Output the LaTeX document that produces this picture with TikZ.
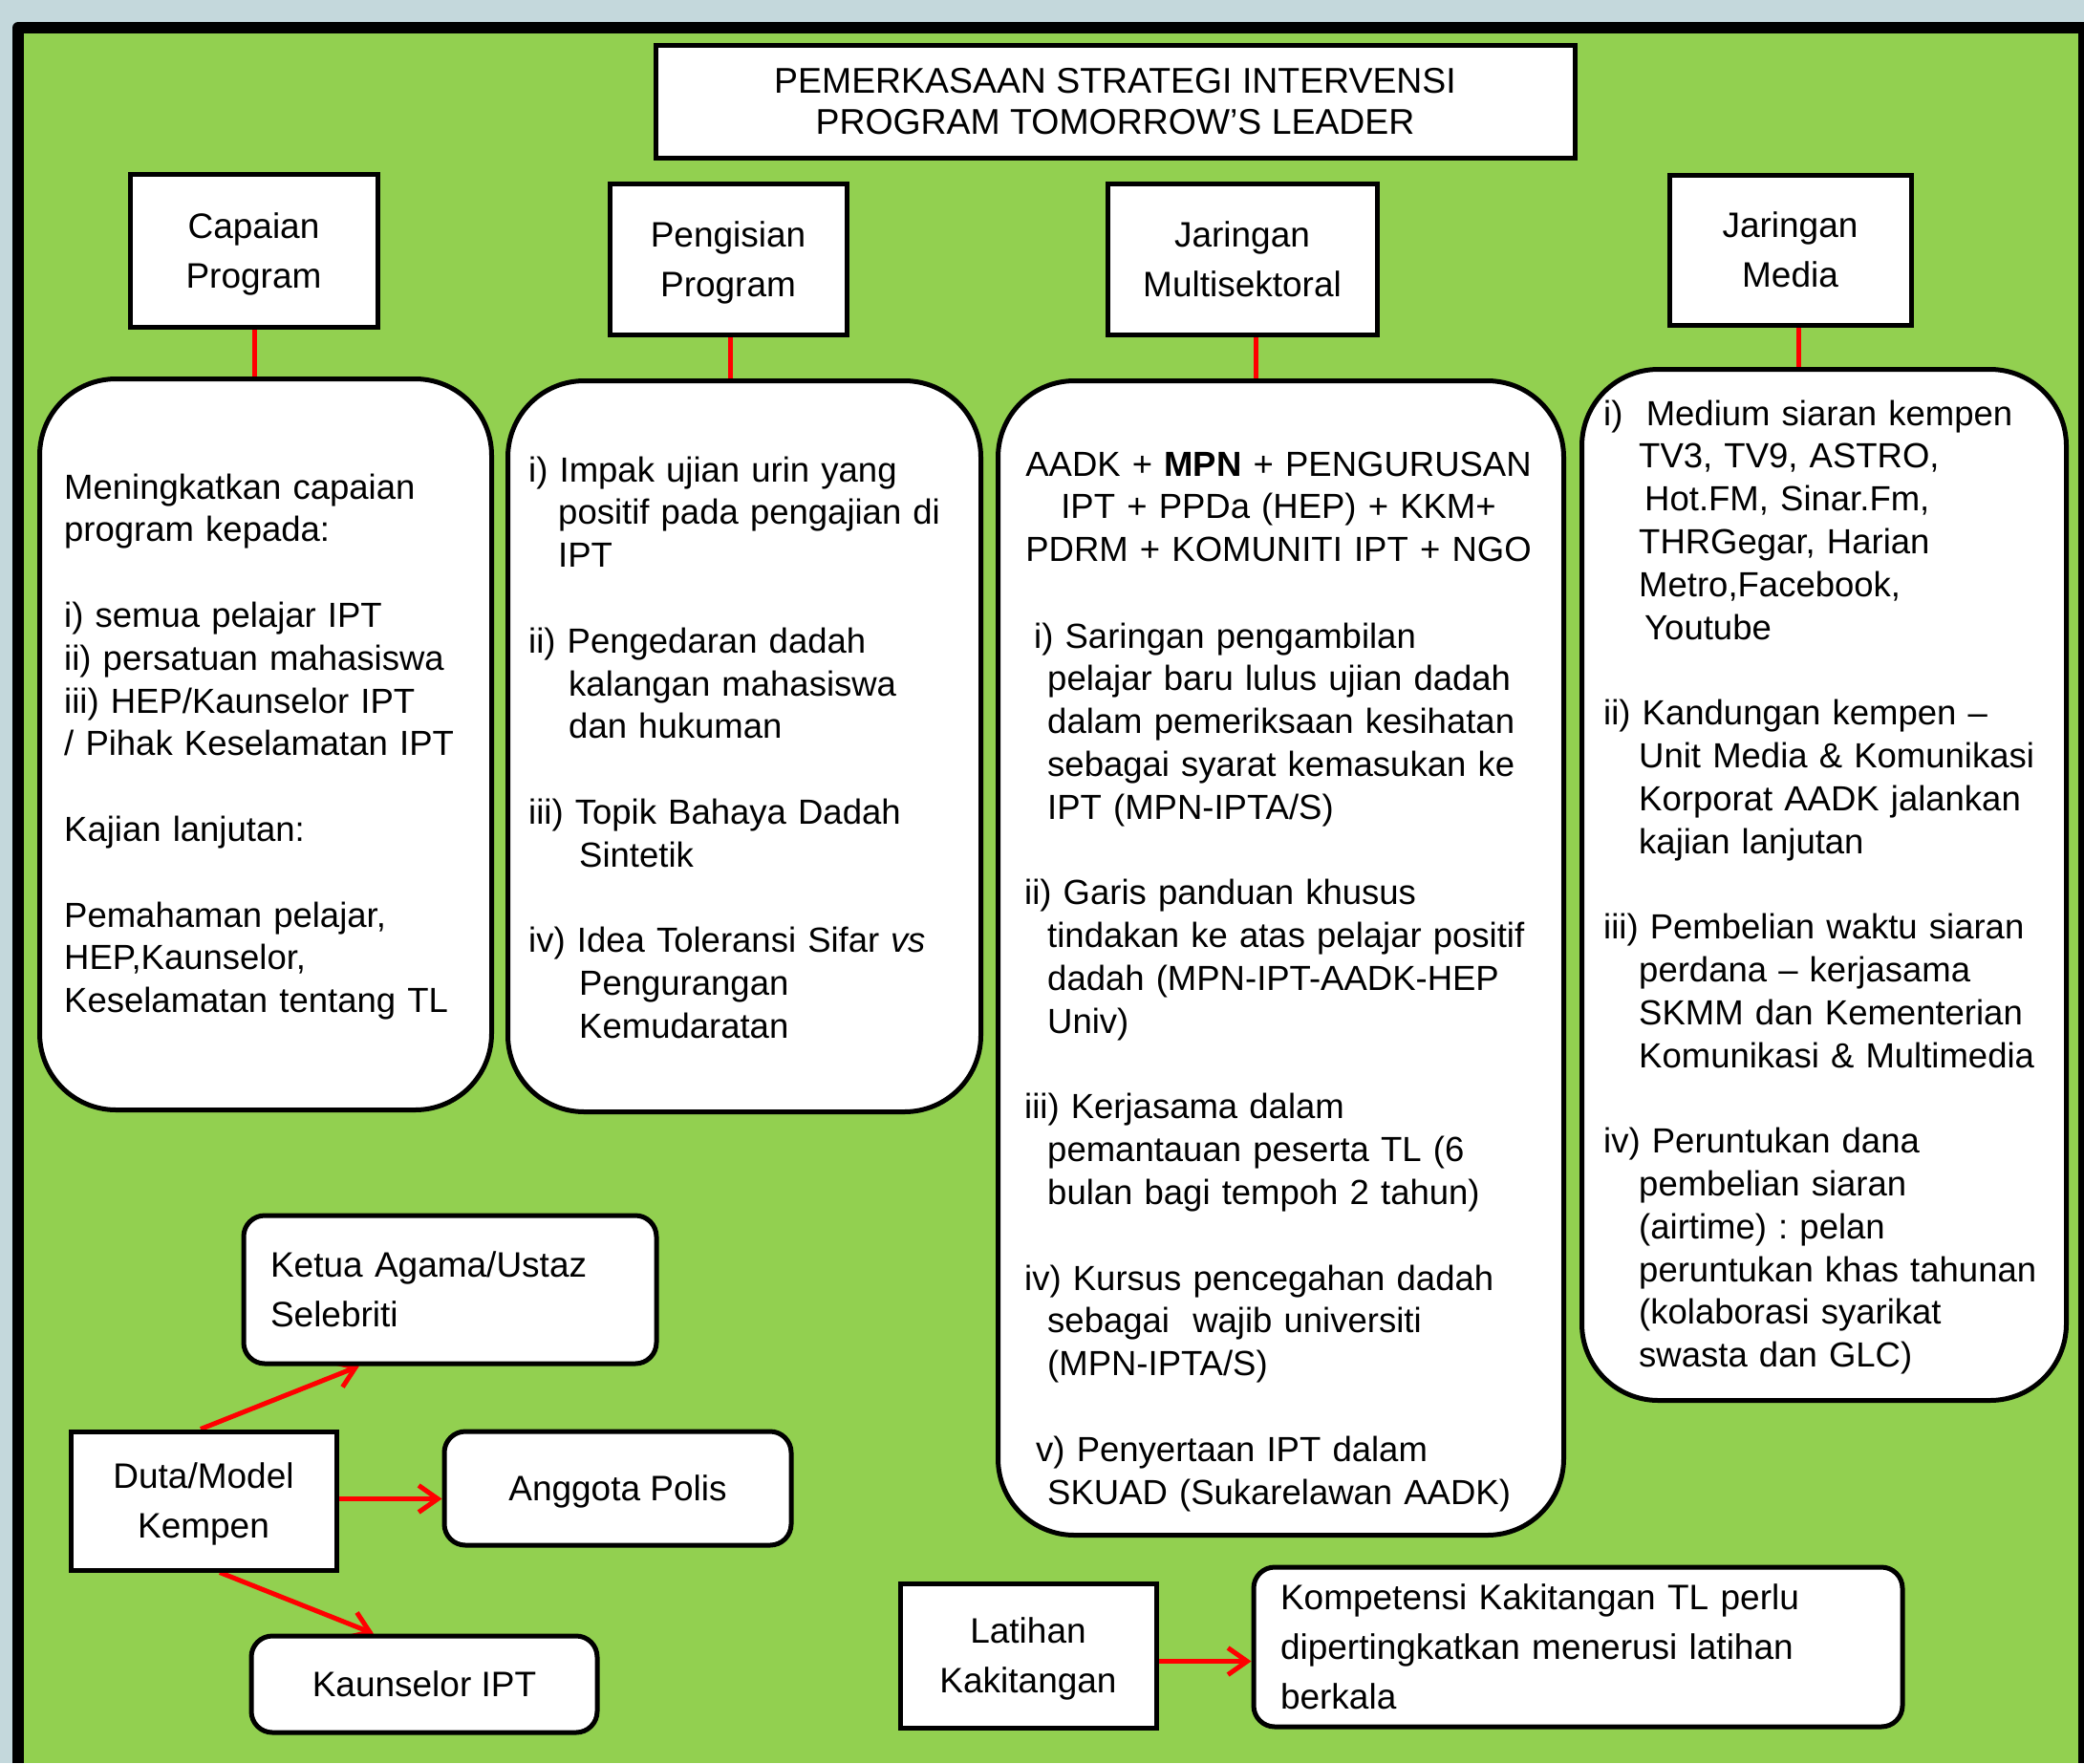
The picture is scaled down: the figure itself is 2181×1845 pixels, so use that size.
\documentclass[tikz,border=0pt]{standalone}
\usepackage{fontspec}
\setmainfont{Liberation Sans}
\usetikzlibrary{arrows.meta,backgrounds}
\definecolor{pgreen}{RGB}{146,208,80}
\definecolor{bgblue}{RGB}{196,216,220}
\newcommand\nodp[1]{\raisebox{0pt}[\height][0pt]{#1}}
\frenchspacing
\tikzset{
  boxbase/.style={draw=black, fill=white, line width=5pt, inner sep=0pt},
  hdr/.style={boxbase, align=center, font=\frenchspacing\fontsize{37pt}{52pt}\selectfont},
  titlebox/.style={boxbase, align=center, font=\fontsize{37.4pt}{43pt}\selectfont},
  bigbox/.style={boxbase, rounded corners=80pt, anchor=north west},
  smallround/.style={boxbase, rounded corners=22pt, align=center, text depth=0pt, font=\fontsize{37pt}{52pt}\selectfont},
  leftround/.style={boxbase, rounded corners=22pt, align=left, font=\frenchspacing\fontsize{37pt}{52pt}\selectfont},
  txt/.style={inner sep=0pt, align=left, anchor=base west, font=\frenchspacing\fontsize{36.5pt}{44.8pt}\selectfont},
  ctxt/.style={inner sep=0pt, align=center, anchor=base, font=\frenchspacing\fontsize{36.5pt}{44.8pt}\selectfont},
  redline/.style={draw=red, line width=5pt},
  redarrow/.style={redline, -{Straight Barb[length=20pt,width=28pt]}}
}
\begin{document}
\begin{tikzpicture}[x=1pt,y=-1pt]
\useasboundingbox (0,0) rectangle (2181,1845);
\begin{scope}[on background layer]
  \fill[bgblue] (0,0) rectangle (2181,1845);
  \fill[pgreen] (19,29) rectangle (2181,1845);
  \draw[line width=12pt, line join=round] (19,1845) -- (19,29) -- (2181,29);
  \draw[line width=6pt] (2178,29) -- (2178,1845);
\end{scope}

% title
\node[titlebox, minimum width=962pt, minimum height=118pt] (title) at (1167,106)
  {PEMERKASAAN STRATEGI INTERVENSI\\PROGRAM TOMORROW’S LEADER};

% headers
\node[hdr, minimum width=259pt, minimum height=160pt] (cap) at (265.5,262) {Capaian\\\nodp{Program}};
\node[hdr, minimum width=248pt, minimum height=158pt] (peng) at (762,271) {Pengisian\\\nodp{Program}};
\node[hdr, minimum width=282pt, minimum height=158pt] (multi) at (1300,271) {Jaringan\\\nodp{Multisektoral}};
\node[hdr, minimum width=253pt, minimum height=157pt] (media) at (1873.5,261.5) {Jaringan\\\nodp{Media}};

% big boxes
\node[bigbox, minimum width=473pt, minimum height=765pt] (b1) at (39,394) {};
\node[bigbox, minimum width=495pt, minimum height=765pt] (b2) at (529,396) {};
\node[bigbox, minimum width=592pt, minimum height=1208pt] (b3) at (1042,396) {};
\node[bigbox, minimum width=507pt, minimum height=1079pt] (b4) at (1653,384) {};

\node[txt, text width=440pt] (t1) at (67,522) {Meningkatkan capaian\\
program kepada:\\[44.8pt]
i) semua pelajar IPT\\
ii) persatuan mahasiswa\\
iii) HEP/Kaunselor IPT\\
/ Pihak Keselamatan IPT\\[44.8pt]
Kajian lanjutan:\\[44.8pt]
Pemahaman pelajar,\\
HEP,Kaunselor,\\
Keselamatan tentang TL};

\node[txt, text width=465pt] (t2) at (553,504) {i) Impak ujian urin yang\\
\hspace*{31pt}positif pada pengajian di\\
\hspace*{31pt}IPT\\[44.8pt]
ii) Pengedaran dadah\\
\hspace*{42pt}kalangan mahasiswa\\
\hspace*{42pt}dan hukuman\\[44.8pt]
iii) Topik Bahaya Dadah\\
\hspace*{53pt}Sintetik\\[44.8pt]
iv) Idea Toleransi Sifar \textit{vs}\\
\hspace*{53pt}Pengurangan\\
\hspace*{53pt}Kemudaratan};

\node[ctxt, text width=570pt] (t3a) at (1338,498) {AADK + \textbf{MPN} + PENGURUSAN\\
IPT + PPDa (HEP) + KKM+\\
PDRM + KOMUNITI IPT + NGO};

\node[txt, text width=555pt] (t3b) at (1072,678) {\hspace*{10pt}i) Saringan pengambilan\\
\hspace*{24pt}pelajar baru lulus ujian dadah\\
\hspace*{24pt}dalam pemeriksaan kesihatan\\
\hspace*{24pt}sebagai syarat kemasukan ke\\
\hspace*{24pt}IPT (MPN-IPTA/S)\\[44.8pt]
ii) Garis panduan khusus\\
\hspace*{24pt}tindakan ke atas pelajar positif\\
\hspace*{24pt}dadah (MPN-IPT-AADK-HEP\\
\hspace*{24pt}Univ)\\[44.8pt]
iii) Kerjasama dalam\\
\hspace*{24pt}pemantauan peserta TL (6\\
\hspace*{24pt}bulan bagi tempoh 2 tahun)\\[44.8pt]
iv) Kursus pencegahan dadah\\
\hspace*{24pt}sebagai\ \ wajib universiti\\
\hspace*{24pt}(MPN-IPTA/S)\\[44.8pt]
\hspace*{12pt}v) Penyertaan IPT dalam\\
\hspace*{24pt}SKUAD (Sukarelawan AADK)};

\node[txt, text width=475pt] (t4) at (1678,445) {i)\ \ Medium siaran kempen\\
\hspace*{37pt}TV3, TV9, ASTRO,\\
\hspace*{43pt}Hot.FM, Sinar.Fm,\\
\hspace*{37pt}THRGegar, Harian\\
\hspace*{37pt}Metro,Facebook,\\
\hspace*{43pt}Youtube\\[44.8pt]
ii) Kandungan kempen \textendash\\
\hspace*{37pt}Unit Media \& Komunikasi\\
\hspace*{37pt}Korporat AADK jalankan\\
\hspace*{37pt}kajian lanjutan\\[44.8pt]
iii) Pembelian waktu siaran\\
\hspace*{37pt}perdana \textendash{} kerjasama\\
\hspace*{37pt}SKMM dan Kementerian\\
\hspace*{37pt}Komunikasi \& Multimedia\\[44.8pt]
iv) Peruntukan dana\\
\hspace*{37pt}pembelian siaran\\
\hspace*{37pt}(airtime) : pelan\\
\hspace*{37pt}peruntukan khas tahunan\\
\hspace*{37pt}(kolaborasi syarikat\\
\hspace*{37pt}swasta dan GLC)};

% bottom left group
\node[leftround, minimum width=432pt, minimum height=155pt, text width=376pt] (ketua) at (471,1349.5) {Ketua Agama/Ustaz\\Selebriti};
\node[hdr, minimum width=278pt, minimum height=145pt] (duta) at (213,1570.5) {Duta/Model\\\nodp{Kempen}};
\node[smallround, minimum width=363pt, minimum height=119pt] (anggota) at (646.5,1557.5) {Anggota Polis};
\node[smallround, minimum width=362pt, minimum height=101pt] (kaun) at (444,1762.5) {Kaunselor IPT};

% bottom right group
\node[hdr, minimum width=268pt, minimum height=151pt] (latihan) at (1076,1732.5) {Latihan\\\nodp{Kakitangan}};
\node[leftround, minimum width=679pt, minimum height=167pt, text width=623pt] (komp) at (1651.5,1723.5) {Kompetensi Kakitangan TL perlu\\dipertingkatkan menerusi latihan\\berkala};

% connectors
\coordinate (c1) at ([xshift=0.5pt]cap.south);
\coordinate (c2) at ([xshift=2pt]peng.south);
\coordinate (c3) at ([xshift=14pt]multi.south);
\coordinate (c4) at ([xshift=8.5pt]media.south);
\coordinate (d1) at ([xshift=-3pt]duta.north);
\coordinate (k1) at ([xshift=-95pt]ketua.south);
\coordinate (d2) at ([yshift=2pt]duta.east);
\coordinate (d3) at ([xshift=17pt]duta.south);
\coordinate (k3) at ([xshift=-53pt]kaun.north);
\coordinate (l1) at ([yshift=-6pt]latihan.east);
\begin{scope}[on background layer]
  \draw[redline] (c1) -- (c1 |- b1.north);
  \draw[redline] (c2) -- (c2 |- b2.north);
  \draw[redline] (c3) -- (c3 |- b3.north);
  \draw[redline] (c4) -- (c4 |- b4.north);
  \draw[redarrow] (d1) -- (k1);
  \draw[redarrow] (d2) -- (d2 -| anggota.west);
  \draw[redarrow] (d3) -- (k3);
  \draw[redarrow] (l1) -- (l1 -| komp.west);
\end{scope}
\end{tikzpicture}
\end{document}
